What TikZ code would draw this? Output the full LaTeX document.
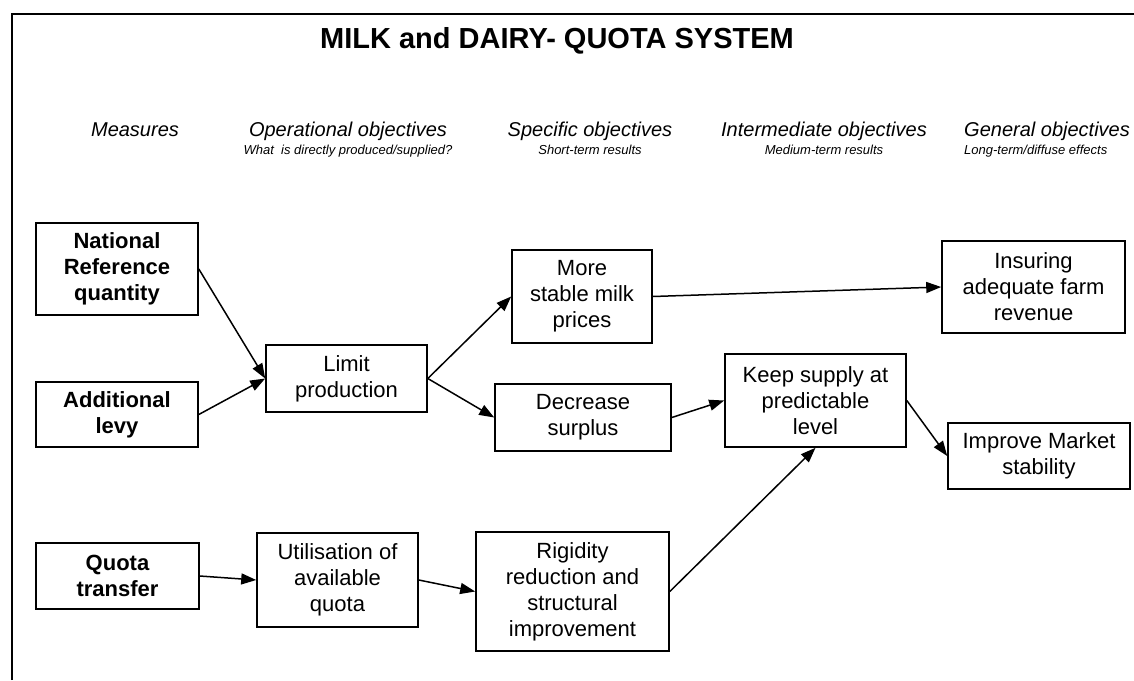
\documentclass[tikz,border=0pt]{standalone}
\usepackage{fontspec}
\setmainfont{Liberation Sans}
\usepackage{tikz}
\usetikzlibrary{arrows.meta}
\usetikzlibrary{positioning}

\begin{document}
\begin{tikzpicture}[x=1pt, y=-1pt]
	\tikzstyle{box}=[rectangle, draw=black, line width=1.6pt, align=center, inner sep=0pt, font=\fontsize{22}{26}\selectfont]
	\tikzstyle{measure}=[box, font=\fontsize{22}{26}\selectfont\bfseries]
	\tikzstyle{head}=[anchor=base, inner sep=0pt, font=\fontsize{20}{24}\selectfont\itshape]
	\tikzstyle{subhead}=[anchor=base, inner sep=0pt, font=\fontsize{13}{15}\selectfont\itshape]
	\tikzstyle{connect}=[-{Triangle[length=15pt, width=11pt]}, line width=1.5pt]
	
	\useasboundingbox (0,0) rectangle (1134,680);
	\draw[line width=2pt] (12,680) -- (12,14) -- (1134,14);
	
	\node[anchor=base, inner sep=0pt, font=\fontsize{29}{34}\selectfont\bfseries] (title) at (557,48) {MILK and DAIRY- QUOTA SYSTEM};
	
	\node[head] (hmeas) at (135,136) {Measures};
	\node[head] (hoper) at (348,136) {Operational objectives};
	\node[head] (hspec) at (590,136) {Specific objectives};
	\node[head] (hinter) at (824,136) {Intermediate objectives};
	\node[head, anchor=base west] (hgen) at (964,136) {General objectives};
	
	\node[subhead] (soper) at (348,154) {What\ \ is directly produced/supplied?};
	\node[subhead] (sspec) at (590,154) {Short-term results};
	\node[subhead] (sinter) at (824,154) {Medium-term results};
	\node[subhead, anchor=base west] (sgen) at (964,154) {Long-term/diffuse effects};
	
	\node[measure, minimum width=162pt, minimum height=92pt] (natref) at (117,269) {National\\Reference\\quantity};
	\node[measure, minimum width=162pt, minimum height=65pt] (levy) at (117,414.5) {Additional\\levy};
	\node[measure, minimum width=163pt, minimum height=66pt] (quota) at (117.5,576) {Quota\\transfer};
	
	\node[box, minimum width=161pt, minimum height=67pt] (limit) at (346.5,378.5) {Limit\\production};
	\node[box, minimum width=161pt, minimum height=94pt] (utilise) at (337.5,580) {Utilisation of\\available\\quota};
	
	\node[box, minimum width=140pt, minimum height=93pt] (stable) at (582,296.5) {More\\stable milk\\prices};
	\node[box, minimum width=176pt, minimum height=67pt] (surplus) at (583,417.5) {Decrease\\surplus};
	\node[box, minimum width=193pt, minimum height=119pt] (rigid) at (572.5,591.5) {Rigidity\\reduction and\\structural\\improvement};
	
	\node[box, minimum width=181pt, minimum height=93pt] (supply) at (815.5,400.5) {Keep supply at\\predictable\\level};
	
	\node[box, minimum width=183pt, minimum height=92pt] (revenue) at (1033.5,287) {Insuring\\adequate farm\\revenue};
	\node[box, minimum width=182pt, minimum height=66pt] (market) at (1039,456) {Improve Market\\stability};
	
	\path (natref.east) edge [connect] (limit.west)
	(levy.east) edge [connect] (limit.west)
	(quota.east) edge [connect] (utilise.west)
	
	(limit.east) edge [connect] (stable.west)
	(limit.east) edge [connect] (surplus.west)
	(utilise.east) edge [connect] (rigid.west)
	
	(stable.east) edge [connect] (revenue.west)
	(surplus.east) edge [connect] (supply.west)
	(rigid.east) edge [connect] (supply.south)
	(supply.east) edge [connect] (market.west);
	
\end{tikzpicture}
\end{document}
